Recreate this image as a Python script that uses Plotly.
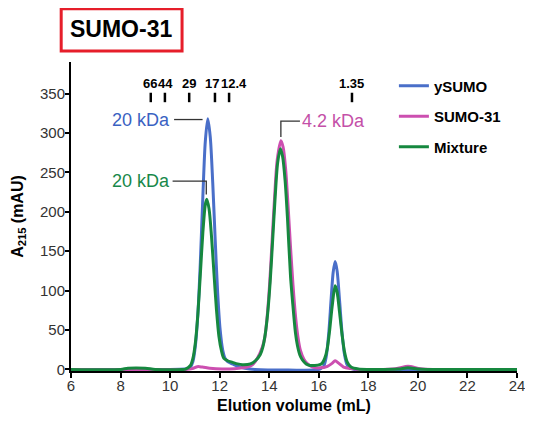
import plotly.graph_objects as go

# ---------------- data ----------------
vol_ysumo = [6.0, 8.0, 10.0, 10.6, 10.72, 10.82, 10.92, 11.02, 11.12, 11.22, 11.32, 11.42,
             11.52, 11.62, 11.72, 11.82, 11.92, 12.02, 12.12, 12.22, 12.32, 12.52, 12.72,
             13.02, 13.42, 16.0, 16.1, 16.2, 16.3, 16.4, 16.5, 16.58, 16.66, 16.74, 16.84,
             16.94, 17.04, 17.14, 17.24, 17.44, 24.0]
abs_ysumo = [0, 0, 0, 0.5, 1, 3, 10, 30, 70, 136, 218, 289,
             318, 295, 237, 164, 97, 50, 25, 14, 10, 7, 4,
             1.5, 0, 0, 1.5, 4, 16, 45, 90, 123, 137, 125, 87,
             46, 18.5, 6, 2, 0, 0]

vol_sumo31 = [6.0, 10.6, 10.9, 11.1, 11.3, 11.6, 12.1, 12.6, 13.1, 13.32, 13.52, 13.72, 13.82,
              13.92, 14.02, 14.12, 14.22, 14.32, 14.47, 14.56, 14.66, 14.76, 14.86, 14.96,
              15.06, 15.16, 15.26, 15.4, 15.55, 15.75, 16.05, 16.35, 16.55, 16.66, 16.8, 17.0,
              17.3, 17.6, 19.1, 19.6, 20.1, 20.6, 24.0]
abs_sumo31 = [0, 0, 1, 3.5, 3, 1.5, 0.5, 1, 3, 6, 14, 28, 40,
              68, 110, 165, 220, 265, 290, 282, 255, 208, 155, 107,
              68, 41, 24, 13, 7, 3, 2, 4, 8, 11, 8, 3,
              1, 0, 1, 4, 1, 0, 0]

vol_mix = [6.0, 8.0, 8.3, 9.0, 9.4, 10.5, 10.62, 10.82, 10.92, 11.02, 11.12, 11.22, 11.32,
           11.42, 11.48, 11.57, 11.67, 11.77, 11.87, 11.97, 12.07, 12.17, 12.32, 12.52, 12.72,
           12.92, 13.24, 13.44, 13.64, 13.74, 13.84, 13.94, 14.04, 14.14, 14.24, 14.34, 14.45,
           14.54, 14.64, 14.74, 14.86, 14.94, 15.06, 15.14, 15.24, 15.34, 15.49, 15.64, 15.84,
           16.04, 16.14, 16.24, 16.34, 16.44, 16.54, 16.66, 16.74, 16.84, 16.94, 17.04, 17.14,
           17.3, 17.6, 18.0, 19.2, 19.6, 20.0, 20.4, 24.0]
abs_mix = [0, 0, 1.5, 1.5, 0, 0, 0.5, 5, 14, 34, 70, 121, 173,
           209, 216, 204, 169, 122, 76, 42, 24, 14, 11, 9, 7,
           6, 7, 11, 19, 28, 45, 72, 112, 165, 219, 262, 280,
           270, 240, 190, 118, 87, 46, 30, 18, 12, 7, 5, 5,
           6, 8, 14, 26, 50, 80, 106, 98, 72, 44, 22, 10,
           3, 0.5, 0, 0.5, 2, 0.5, 0, 0]

series_names = ["ySUMO", "SUMO-31", "Mixture"]
series_colors = ["#4a6fc9", "#cc4fb0", "#16883f"]

x_ticks = [6, 8, 10, 12, 14, 16, 18, 20, 22, 24]
y_ticks = [0, 50, 100, 150, 200, 250, 300, 350]

marker_labels = ["66", "44", "29", "17", "12.4", "1.35"]
marker_vols = [9.22, 9.79, 10.77, 11.81, 12.38, 17.34]
marker_label_shift = [-1, 1, 0, -3, 5, 0]

# ---------------- figure ----------------
FONT = "Liberation Sans, Arial, sans-serif"
fig = go.Figure()
for vx, vy, name, col in zip([vol_ysumo, vol_sumo31, vol_mix],
                             [abs_ysumo, abs_sumo31, abs_mix],
                             series_names, series_colors):
    fig.add_trace(go.Scatter(x=vx, y=vy, name=name, mode="lines",
                             line=dict(color=col, width=3, shape="spline", smoothing=0.8),
                             legendgroup=name))

shapes = []
annotations = []
# molecular-weight standard marks
for lab, v, sh in zip(marker_labels, marker_vols, marker_label_shift):
    shapes.append(dict(type="line", xref="x", yref="y", x0=v, x1=v, y0=339, y1=351,
                       line=dict(color="black", width=2.5)))
    annotations.append(dict(x=v, y=363, xref="x", yref="y", text=lab, showarrow=False,
                            xanchor="center", yanchor="middle", xshift=sh,
                            font=dict(family=FONT, size=13, color="black", weight="bold")))

# peak callouts
blue_c, pink_c, green_c = "#3a62c2", "#c450a8", "#17884a"
shapes.append(dict(type="line", xref="x", yref="y", x0=10.16, x1=11.31, y0=317, y1=317,
                   line=dict(color="#333", width=1.3)))
annotations.append(dict(x=9.97, y=317, xref="x", yref="y", text="20 kDa", showarrow=False,
                        xanchor="right", yanchor="middle", xshift=3,
                        font=dict(family=FONT, size=18, color=blue_c)))
shapes.append(dict(type="path", xref="x", yref="y", path="M 10.1 239 L 11.46 239 L 11.46 222",
                   line=dict(color="#333", width=1.3)))
annotations.append(dict(x=9.97, y=239, xref="x", yref="y", text="20 kDa", showarrow=False,
                        xanchor="right", yanchor="middle", xshift=3,
                        font=dict(family=FONT, size=18, color=green_c)))
shapes.append(dict(type="path", xref="x", yref="y", path="M 15.24 315 L 14.47 315 L 14.47 295",
                   line=dict(color="#333", width=1.3)))
annotations.append(dict(x=15.31, y=315, xref="x", yref="y", text="4.2 kDa", showarrow=False,
                        xanchor="left", yanchor="middle", xshift=-2,
                        font=dict(family=FONT, size=18, color=pink_c)))

# y-axis title (placed as rotated text to match the reference position)
annotations.append(dict(x=-0.118, y=0.5, xref="paper", yref="paper",
                        text="A<sub>215</sub> (mAU)", showarrow=False, textangle=-90,
                        xanchor="center", yanchor="middle",
                        font=dict(family=FONT, size=16, color="black", weight="bold")))

# boxed panel title
shapes.append(dict(type="rect", xref="paper", yref="paper", x0=-0.022, x1=0.249, y0=1.036, y1=1.172,
                   line=dict(color="#e61e2a", width=3)))
annotations.append(dict(x=0.113, y=1.106, xref="paper", yref="paper", text="SUMO-31",
                        showarrow=False, xanchor="center", yanchor="middle",
                        font=dict(family=FONT, size=23, color="black", weight="bold")))

fig.update_layout(
    width=525, height=417,
    margin=dict(l=63, r=16, t=54, b=54, autoexpand=False),
    paper_bgcolor="white", plot_bgcolor="white",
    font=dict(family=FONT, size=15, color="#333"),
    shapes=shapes, annotations=annotations,
    legend=dict(x=0.724, y=0.976, xanchor="left", yanchor="top",
                font=dict(family=FONT, size=15, color="black", weight="bold"),
                tracegroupgap=8, bgcolor="rgba(0,0,0,0)"),
    xaxis=dict(range=[6, 24], tickvals=x_ticks, ticks="outside", ticklen=5, tickwidth=2,
               tickcolor="black", showline=True, linewidth=2, linecolor="black",
               showgrid=False, zeroline=False, layer="below traces", automargin=False,
               ticklabelstandoff=-5,
               tickfont=dict(size=15, color="#333"),
               title=dict(text="Elution volume (mL)", standoff=7,
                          font=dict(size=16, color="black", weight="bold"))),
    yaxis=dict(range=[-2, 390], tickvals=y_ticks, ticks="outside", ticklen=4, tickwidth=2,
               tickcolor="black", showline=True, linewidth=2, linecolor="black",
               showgrid=False, zeroline=False, layer="below traces", automargin=False,
               ticklabelstandoff=-3,
               tickfont=dict(size=15, color="#333")),
)

fig.write_html("out.html")
